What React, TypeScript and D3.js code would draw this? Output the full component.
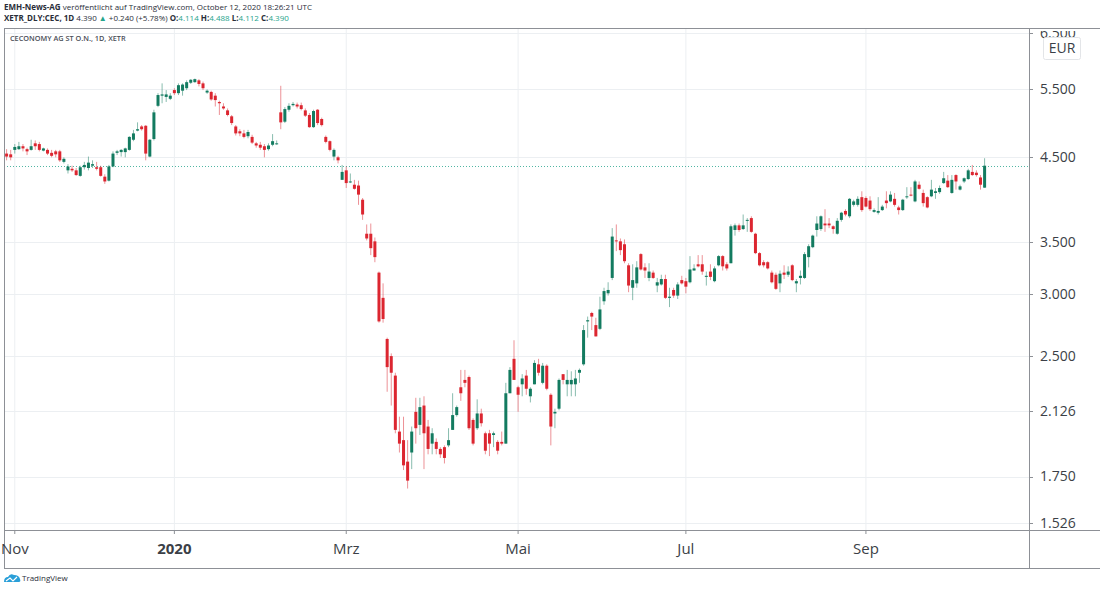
import * as d3 from 'd3';
import React, { useEffect, useRef } from 'react';

const WIDTH = 1100;
const HEIGHT = 592;

// trading calendar (Xetra)
const firstDay = '2019-10-30';
const lastDay = '2020-10-12';
const holidays = [
    '2019-12-24', '2019-12-25', '2019-12-26', '2019-12-31', '2020-01-01',
    '2020-04-10', '2020-04-13', '2020-05-01', '2020-06-01',
];

// daily OHLC in EUR
const open = [
    4.55, 4.54, 4.60, 4.61, 4.65, 4.61, 4.60, 4.69, 4.68, 4.59, 4.60, 4.56, 4.58, 4.58, 4.44, 4.33, 4.35, 4.33, 4.26, 4.37,
    4.36, 4.39, 4.37, 4.37, 4.25, 4.20, 4.38, 4.56, 4.57, 4.57, 4.60, 4.74, 4.87, 4.93, 4.94, 4.51, 4.75, 5.24, 5.40, 5.38,
    5.35, 5.49, 5.44, 5.48, 5.52, 5.61, 5.62, 5.65, 5.60, 5.45, 5.46, 5.40, 5.30, 5.23, 5.17, 5.08, 4.93, 4.86, 4.83, 4.79,
    4.78, 4.69, 4.67, 4.65, 4.61, 4.67, 4.68, 5.14, 5.00, 5.18, 5.25, 5.26, 5.25, 5.17, 5.10, 4.92, 5.18, 5.04, 4.78, 4.72,
    4.51, 4.50, 4.21, 4.33, 4.18, 4.15, 4.14, 3.97, 3.59, 3.59, 3.51, 3.20, 2.97, 2.63, 2.50, 2.36, 2.00, 1.95, 1.83, 1.88,
    2.12, 2.04, 2.16, 2.03, 1.93, 1.94, 1.90, 1.91, 1.92, 2.01, 2.10, 2.28, 2.33, 2.35, 2.07, 2.02, 2.11, 1.99, 1.99, 1.98,
    1.94, 1.94, 1.93, 2.24, 2.48, 2.28, 2.30, 2.36, 2.22, 2.30, 2.44, 2.31, 2.43, 2.23, 2.11, 2.14, 2.37, 2.30, 2.30, 2.30,
    2.38, 2.44, 2.77, 2.84, 2.74, 2.71, 2.94, 3.01, 3.15, 3.52, 3.51, 3.48, 3.27, 3.06, 3.10, 3.38, 3.25, 3.15, 3.20, 3.08,
    3.09, 3.14, 2.97, 3.04, 2.99, 3.13, 3.12, 3.11, 3.22, 3.28, 3.28, 3.16, 3.21, 3.12, 3.27, 3.36, 3.28, 3.29, 3.63, 3.68,
    3.64, 3.73, 3.76, 3.59, 3.39, 3.30, 3.30, 3.20, 3.18, 3.10, 3.20, 3.18, 3.27, 3.10, 3.15, 3.15, 3.35, 3.45, 3.63, 3.64,
    3.70, 3.70, 3.67, 3.59, 3.74, 3.84, 3.78, 3.91, 3.91, 4.00, 3.99, 3.96, 3.83, 3.82, 3.85, 3.96, 3.95, 3.98, 3.88, 3.85,
    4.00, 4.03, 3.95, 4.15, 4.05, 4.00, 4.01, 4.05, 4.06, 4.17, 4.20, 4.05, 4.27, 4.09, 4.19, 4.22, 4.31, 4.30, 4.24, 4.114,
];
const high = [
    4.61, 4.60, 4.68, 4.71, 4.68, 4.63, 4.74, 4.73, 4.71, 4.63, 4.62, 4.60, 4.60, 4.60, 4.50, 4.41, 4.39, 4.36, 4.39, 4.44,
    4.51, 4.46, 4.44, 4.39, 4.28, 4.40, 4.58, 4.60, 4.61, 4.63, 4.79, 4.88, 4.99, 4.95, 4.95, 4.75, 5.18, 5.44, 5.60, 5.49,
    5.44, 5.52, 5.60, 5.60, 5.65, 5.67, 5.68, 5.67, 5.63, 5.50, 5.48, 5.44, 5.32, 5.28, 5.20, 5.10, 4.95, 4.89, 4.88, 4.88,
    4.81, 4.71, 4.71, 4.68, 4.69, 4.82, 4.73, 5.56, 5.22, 5.28, 5.30, 5.29, 5.29, 5.20, 5.13, 5.18, 5.19, 5.06, 4.80, 4.73,
    4.62, 4.52, 4.40, 4.38, 4.29, 4.21, 4.20, 3.99, 3.69, 3.70, 3.55, 3.21, 3.10, 2.64, 2.52, 2.38, 2.09, 2.09, 1.95, 2.03,
    2.21, 2.21, 2.22, 2.07, 2.02, 1.96, 1.91, 1.92, 2.02, 2.24, 2.16, 2.40, 2.40, 2.36, 2.08, 2.20, 2.14, 2.00, 2.01, 2.00,
    1.95, 2.00, 2.31, 2.42, 2.62, 2.29, 2.37, 2.40, 2.28, 2.47, 2.48, 2.45, 2.44, 2.24, 2.14, 2.34, 2.37, 2.40, 2.39, 2.40,
    2.41, 2.74, 2.81, 2.85, 2.80, 2.98, 3.06, 3.11, 3.65, 3.69, 3.54, 3.53, 3.29, 3.28, 3.31, 3.39, 3.29, 3.29, 3.22, 3.15,
    3.18, 3.18, 3.06, 3.06, 3.11, 3.17, 3.15, 3.36, 3.28, 3.37, 3.37, 3.21, 3.28, 3.26, 3.37, 3.37, 3.30, 3.69, 3.70, 3.70,
    3.80, 3.76, 3.78, 3.60, 3.40, 3.32, 3.31, 3.22, 3.20, 3.22, 3.27, 3.26, 3.28, 3.14, 3.22, 3.40, 3.48, 3.58, 3.78, 3.79,
    3.86, 3.76, 3.68, 3.76, 3.83, 3.86, 3.99, 3.97, 4.01, 4.07, 4.01, 4.01, 3.87, 4.00, 3.91, 4.07, 4.07, 4.05, 3.90, 3.98,
    4.12, 4.12, 4.21, 4.19, 4.09, 4.01, 4.21, 4.11, 4.14, 4.31, 4.27, 4.27, 4.28, 4.15, 4.24, 4.35, 4.40, 4.33, 4.27, 4.488,
];
const low = [
    4.46, 4.46, 4.55, 4.60, 4.58, 4.53, 4.59, 4.60, 4.58, 4.58, 4.53, 4.50, 4.50, 4.44, 4.42, 4.29, 4.31, 4.26, 4.25, 4.34,
    4.33, 4.36, 4.33, 4.25, 4.16, 4.19, 4.37, 4.53, 4.51, 4.50, 4.59, 4.72, 4.86, 4.87, 4.46, 4.50, 4.73, 5.22, 5.28, 5.30,
    5.33, 5.41, 5.41, 5.40, 5.49, 5.59, 5.61, 5.55, 5.49, 5.43, 5.32, 5.23, 5.10, 5.18, 5.08, 4.95, 4.80, 4.79, 4.76, 4.76,
    4.68, 4.63, 4.60, 4.50, 4.59, 4.65, 4.67, 4.89, 4.98, 5.15, 5.23, 5.20, 5.17, 5.07, 4.91, 4.91, 4.95, 4.93, 4.69, 4.58,
    4.46, 4.42, 4.21, 4.11, 4.17, 4.09, 3.91, 3.74, 3.52, 3.37, 3.30, 2.76, 2.76, 2.25, 2.16, 1.99, 1.88, 1.785, 1.69, 1.79,
    1.93, 1.98, 1.79, 1.87, 1.87, 1.87, 1.85, 1.82, 1.91, 2.01, 2.09, 2.19, 2.28, 2.01, 1.92, 2.01, 2.03, 1.87, 1.86, 1.91,
    1.87, 1.92, 1.93, 2.24, 2.33, 2.12, 2.22, 2.23, 2.18, 2.30, 2.36, 2.30, 2.26, 1.92, 2.02, 2.13, 2.30, 2.22, 2.22, 2.22,
    2.31, 2.43, 2.64, 2.70, 2.65, 2.70, 2.91, 2.99, 3.13, 3.41, 3.37, 3.29, 3.02, 2.95, 3.06, 3.22, 3.15, 3.12, 3.14, 3.02,
    3.08, 2.96, 2.89, 2.97, 2.96, 3.09, 3.01, 3.10, 3.22, 3.25, 3.18, 3.08, 3.13, 3.11, 3.26, 3.22, 3.22, 3.29, 3.57, 3.61,
    3.63, 3.61, 3.60, 3.38, 3.26, 3.25, 3.23, 3.10, 3.04, 3.02, 3.14, 3.16, 3.12, 3.02, 3.09, 3.14, 3.25, 3.44, 3.56, 3.62,
    3.61, 3.65, 3.59, 3.58, 3.72, 3.78, 3.76, 3.89, 3.89, 3.83, 3.88, 3.84, 3.82, 3.80, 3.84, 3.87, 3.94, 3.89, 3.80, 3.84,
    3.98, 4.01, 3.94, 4.09, 3.89, 3.87, 4.00, 3.98, 4.04, 4.16, 4.11, 4.04, 4.09, 4.08, 4.17, 4.21, 4.26, 4.25, 4.09, 4.112,
];
const close = [
    4.51, 4.50, 4.64, 4.65, 4.62, 4.58, 4.65, 4.65, 4.60, 4.62, 4.55, 4.52, 4.54, 4.46, 4.48, 4.38, 4.33, 4.27, 4.37, 4.40,
    4.43, 4.41, 4.35, 4.26, 4.19, 4.38, 4.55, 4.58, 4.60, 4.62, 4.78, 4.83, 4.89, 4.89, 4.55, 4.74, 5.14, 5.41, 5.42, 5.42,
    5.40, 5.44, 5.57, 5.58, 5.62, 5.66, 5.67, 5.59, 5.52, 5.48, 5.34, 5.33, 5.28, 5.20, 5.10, 4.98, 4.83, 4.83, 4.78, 4.85,
    4.70, 4.66, 4.63, 4.60, 4.66, 4.72, 4.69, 4.99, 5.19, 5.24, 5.27, 5.23, 5.19, 5.09, 4.92, 5.16, 4.98, 4.95, 4.71, 4.60,
    4.60, 4.46, 4.31, 4.17, 4.19, 4.10, 4.03, 3.80, 3.54, 3.44, 3.35, 2.77, 2.79, 2.42, 2.38, 2.01, 1.93, 1.81, 1.73, 2.00,
    2.02, 2.15, 1.99, 1.90, 1.99, 1.90, 1.87, 1.85, 1.95, 2.10, 2.15, 2.24, 2.31, 2.02, 1.93, 2.11, 2.05, 1.89, 1.93, 1.99,
    1.89, 1.93, 2.24, 2.40, 2.33, 2.23, 2.34, 2.27, 2.27, 2.45, 2.38, 2.43, 2.27, 2.03, 2.12, 2.33, 2.33, 2.33, 2.33, 2.34,
    2.40, 2.70, 2.78, 2.81, 2.65, 2.87, 3.03, 3.04, 3.56, 3.51, 3.42, 3.31, 3.08, 3.13, 3.25, 3.23, 3.22, 3.21, 3.15, 3.11,
    3.14, 2.97, 2.98, 2.99, 3.09, 3.10, 3.07, 3.23, 3.24, 3.26, 3.21, 3.17, 3.16, 3.24, 3.36, 3.26, 3.24, 3.67, 3.68, 3.63,
    3.68, 3.74, 3.61, 3.39, 3.27, 3.27, 3.24, 3.11, 3.05, 3.19, 3.18, 3.21, 3.13, 3.12, 3.17, 3.38, 3.46, 3.57, 3.70, 3.78,
    3.68, 3.68, 3.64, 3.73, 3.82, 3.80, 3.98, 3.95, 3.98, 3.85, 3.89, 3.86, 3.85, 3.84, 3.89, 3.93, 4.03, 3.91, 3.85, 3.97,
    4.01, 4.02, 4.19, 4.10, 3.93, 3.88, 4.09, 4.07, 4.11, 4.23, 4.12, 4.21, 4.19, 4.13, 4.23, 4.33, 4.27, 4.27, 4.15, 4.39,
];

const priceTicks = [1.526, 1.75, 2.126, 2.5, 3.0, 3.5, 4.5, 5.5, 6.5];
const monthTicks = ['2019-11-01', '2020-01-02', '2020-03-02', '2020-05-04', '2020-07-01', '2020-09-01'];
const monthLabels = ['Nov', '2020', 'Mrz', 'Mai', 'Jul', 'Sep'];
const lastPrice = 4.39;

const UP = '#137b60';
const DOWN = '#dc2630';
const TEAL = '#26a48c';
const TEXT = '#3b3f47';

const fmt = d3.utcFormat('%Y-%m-%d');
const days = d3
    .utcDay.range(
        new Date(firstDay + 'T00:00:00Z'),
        d3.utcDay.offset(new Date(lastDay + 'T00:00:00Z'), 1),
    )
    .filter((d) => d.getUTCDay() % 6 !== 0 && !holidays.includes(fmt(d)))
    .map(fmt);

const candles = days.map((date, i) => ({
    date,
    o: open[i],
    h: high[i],
    l: low[i],
    c: close[i],
}));

const pane = { left: 4, top: 28, right: 1029, bottom: 530, axisBottom: 568 };

const CandleChart = () => {
    const svgRef = useRef<SVGSVGElement | null>(null);

    useEffect(() => {
        const svg = d3.select(svgRef.current);
        svg.selectAll('*').remove();

        const x = d3.scalePoint().domain(days).range([6.6, 984.6]);
        const y = d3.scaleLog().domain([1.495, 6.596]).range([pane.bottom, pane.top]);

        svg.append('rect')
            .attr('width', WIDTH)
            .attr('height', HEIGHT)
            .attr('fill', '#fff');

        svg.append('clipPath')
            .attr('id', 'pane-clip')
            .append('rect')
            .attr('x', pane.left)
            .attr('y', pane.top)
            .attr('width', pane.right - pane.left)
            .attr('height', pane.bottom - pane.top);

        // the top label is cut by the pane edge, as on the original
        svg.append('clipPath')
            .attr('id', 'axis-clip')
            .append('rect')
            .attr('x', pane.right)
            .attr('y', pane.top + 3)
            .attr('width', WIDTH - pane.right)
            .attr('height', pane.bottom - pane.top);

        // grid
        const grid = svg.append('g').attr('clip-path', 'url(#pane-clip)');
        grid.selectAll('.vgrid')
            .data(monthTicks)
            .join('line')
            .attr('x1', (d) => x(d)!)
            .attr('x2', (d) => x(d)!)
            .attr('y1', pane.top)
            .attr('y2', pane.bottom)
            .attr('stroke', '#eceff2');
        grid.selectAll('.hgrid')
            .data(priceTicks)
            .join('line')
            .attr('x1', pane.left)
            .attr('x2', pane.right)
            .attr('y1', (d) => Math.round(y(d)) + 0.5)
            .attr('y2', (d) => Math.round(y(d)) + 0.5)
            .attr('stroke', '#eceff2');

        // last price line
        grid.append('line')
            .attr('x1', pane.left)
            .attr('x2', pane.right)
            .attr('y1', Math.round(y(lastPrice)) + 0.5)
            .attr('y2', Math.round(y(lastPrice)) + 0.5)
            .attr('stroke', TEAL)
            .attr('stroke-opacity', 0.8)
            .attr('stroke-dasharray', '1,2');

        // candles
        const g = svg.append('g').attr('clip-path', 'url(#pane-clip)');
        const candle = g
            .selectAll('g.candle')
            .data(candles)
            .join('g')
            .attr('class', 'candle');
        candle
            .append('line')
            .attr('x1', (d) => x(d.date)!)
            .attr('x2', (d) => x(d.date)!)
            .attr('y1', (d) => y(d.h))
            .attr('y2', (d) => y(d.l))
            .attr('stroke', (d) => (d.c >= d.o ? UP : DOWN))
            .attr('stroke-opacity', 0.5)
            .attr('stroke-width', 1);
        candle
            .append('rect')
            .attr('x', (d) => x(d.date)! - 1.5)
            .attr('width', 3)
            .attr('y', (d) => y(Math.max(d.o, d.c)))
            .attr('height', (d) =>
                Math.max(1, y(Math.min(d.o, d.c)) - y(Math.max(d.o, d.c))),
            )
            .attr('fill', (d) => (d.c >= d.o ? UP : DOWN));

        // frame
        const frame = svg.append('g').attr('stroke', '#8d9096').attr('shape-rendering', 'crispEdges');
        frame.append('line').attr('x1', pane.left).attr('x2', WIDTH).attr('y1', pane.top).attr('y2', pane.top);
        frame.append('line').attr('x1', pane.left).attr('x2', WIDTH).attr('y1', pane.bottom).attr('y2', pane.bottom);
        frame.append('line').attr('x1', pane.left).attr('x2', WIDTH).attr('y1', pane.axisBottom).attr('y2', pane.axisBottom);
        frame.append('line').attr('x1', pane.left).attr('x2', pane.left).attr('y1', pane.top).attr('y2', pane.axisBottom);
        frame.append('line').attr('x1', pane.right).attr('x2', pane.right).attr('y1', pane.top).attr('y2', pane.axisBottom);

        // right price axis
        const yAxis = svg.append('g').attr('clip-path', 'url(#axis-clip)');
        yAxis.selectAll('line')
            .data(priceTicks)
            .join('line')
            .attr('x1', pane.right)
            .attr('x2', pane.right + 4)
            .attr('y1', (d) => Math.round(y(d)) + 0.5)
            .attr('y2', (d) => Math.round(y(d)) + 0.5)
            .attr('stroke', '#8d9096');
        yAxis.selectAll('text')
            .data(priceTicks)
            .join('text')
            .attr('x', 1040)
            .attr('y', (d) => y(d) + 1)
            .attr('dominant-baseline', 'middle')
            .attr('fill', TEXT)
            .style('font', '14px "Open Sans", sans-serif')
            .text((d) => d3.format('.3f')(d));

        // currency badge
        const badge = svg.append('g');
        badge.append('rect')
            .attr('x', 1043.5)
            .attr('y', 37.5)
            .attr('width', 37)
            .attr('height', 22)
            .attr('rx', 2)
            .attr('fill', '#fff')
            .attr('stroke', '#e3e5e8');
        badge.append('text')
            .attr('x', 1062)
            .attr('y', 49)
            .attr('text-anchor', 'middle')
            .attr('dominant-baseline', 'middle')
            .attr('fill', TEXT)
            .style('font', '14px "Open Sans", sans-serif')
            .text('EUR');

        // time axis
        const xAxis = svg.append('g');
        xAxis.selectAll('line')
            .data(monthTicks)
            .join('line')
            .attr('x1', (d) => x(d)!)
            .attr('x2', (d) => x(d)!)
            .attr('y1', pane.bottom)
            .attr('y2', pane.bottom + 4)
            .attr('stroke', '#8d9096');
        xAxis.selectAll('text')
            .data(monthTicks)
            .join('text')
            .attr('x', (d) => x(d)!)
            .attr('y', 550)
            .attr('text-anchor', 'middle')
            .attr('dominant-baseline', 'middle')
            .attr('fill', TEXT)
            .style('font', (d, i) =>
                i === 1 ? 'bold 15px "Open Sans", sans-serif' : '15px "Open Sans", sans-serif',
            )
            .text((d, i) => monthLabels[i]);

        // pane title
        svg.append('text')
            .attr('x', 10)
            .attr('y', 41)
            .attr('fill', '#4a4e57')
            .style('font', '600 7.3px "Open Sans", sans-serif')
            .text('CECONOMY AG ST O.N., 1D, XETR');

        // header
        const h1 = svg.append('text')
            .attr('x', 4)
            .attr('y', 10)
            .attr('fill', '#2a2e39')
            .style('font', '8px "Open Sans", sans-serif');
        h1.append('tspan').attr('font-weight', 'bold').text('EMH-News-AG');
        h1.append('tspan').text(' veröffentlicht auf TradingView.com, October 12, 2020 18:26:21 UTC');

        const h2 = svg.append('text')
            .attr('x', 4)
            .attr('y', 21)
            .attr('fill', '#2a2e39')
            .style('font', '8px "Open Sans", sans-serif');
        h2.append('tspan').attr('font-weight', 'bold').text('XETR_DLY:CEC, 1D');
        h2.append('tspan').text(' 4.390 ');
        h2.append('tspan').attr('fill', TEAL).text('▲');
        h2.append('tspan').text(' +0.240 (+5.78%) ');
        [
            ['O:', '4.114'],
            ['H:', '4.488'],
            ['L:', '4.112'],
            ['C:', '4.390'],
        ].forEach(([k, v], i) => {
            h2.append('tspan').attr('font-weight', 'bold').text((i ? ' ' : '') + k);
            h2.append('tspan').attr('fill', TEAL).text(v);
        });

        // footer logo
        const logo = svg.append('g').attr('transform', 'translate(4,573)');
        logo.append('path')
            .attr('d', 'M0,9 Q0,4 4,4 Q6,0 10,2 Q15,2 16,6 Q17,9 15,9 Z')
            .attr('fill', '#2a9fd8');
        logo.append('path')
            .attr('d', 'M2,8 L6,5 L9,8 L13,4')
            .attr('fill', 'none')
            .attr('stroke', '#fff')
            .attr('stroke-width', 1.2);
        svg.append('text')
            .attr('x', 22)
            .attr('y', 581)
            .attr('fill', '#2a2e39')
            .style('font', '8px "Open Sans", sans-serif')
            .text('TradingView');
    }, []);

    return (
        <svg
            ref={svgRef}
            width={WIDTH}
            height={HEIGHT}
            style={{ position: 'absolute', left: 0, top: 0 }}
        />
    );
};

export default function App() {
    return <CandleChart />;
}
